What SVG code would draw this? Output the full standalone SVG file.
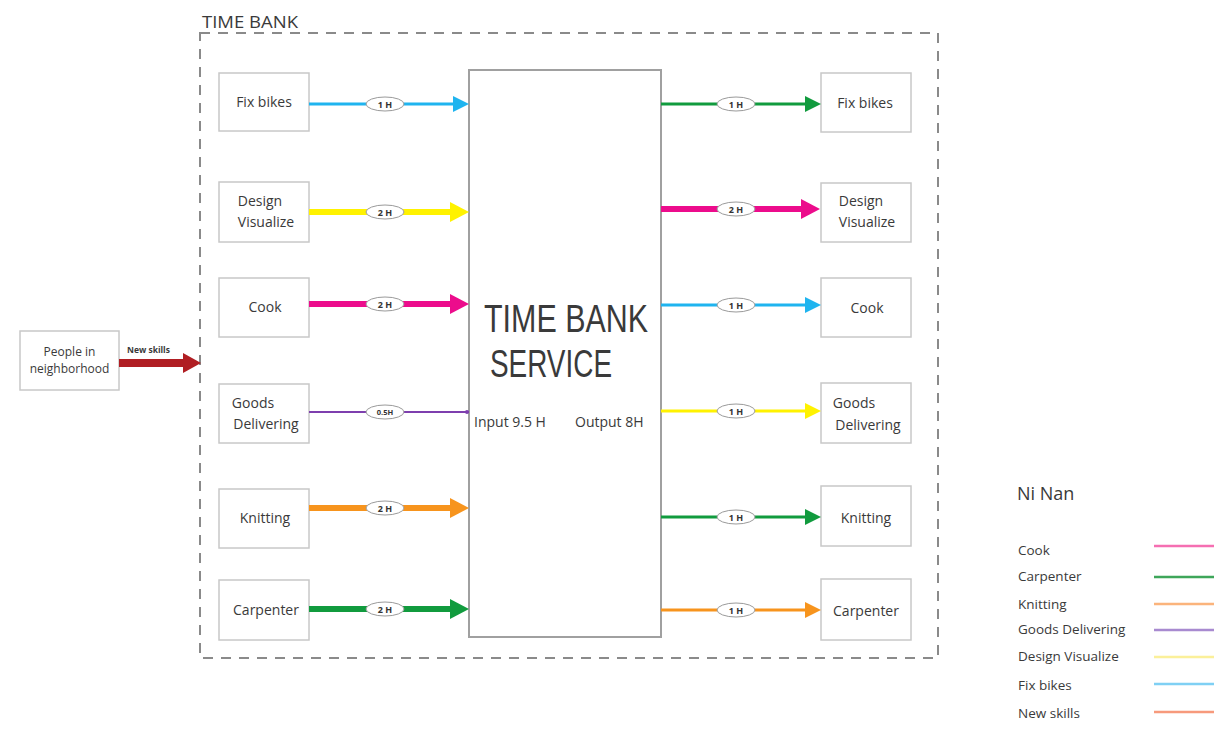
<svg xmlns="http://www.w3.org/2000/svg" width="1214" height="731" viewBox="0 0 1214 731">
  <style>
    text { font-family: "Open Sans", "Liberation Sans", sans-serif; fill: #3a3a3a; }
    .box { fill: #ffffff; stroke: #c8c8c8; stroke-width: 1.5; }
    .lbl { font-size: 14px; text-anchor: middle; }
    .pill { fill: #ffffff; stroke: #9a9a9a; stroke-width: 1; }
    .pt { font-size: 9px; font-weight: bold; text-anchor: middle; fill: #333; }
    .leg { font-size: 13.5px; }
    .legline { stroke-width: 2.5; }
    .title { font-family: "Liberation Sans", "Open Sans", sans-serif; font-size: 38px; }
  </style>

  <rect width="1214" height="731" fill="#ffffff"/>

  <!-- outer time bank boundary -->
  <text x="202" y="28" style="font-size:16px" fill="#444" textLength="96" lengthAdjust="spacingAndGlyphs">TIME BANK</text>
  <rect x="200" y="33" width="738" height="625" fill="none" stroke="#8a8a8a" stroke-width="2" stroke-dasharray="10 8"/>

  <!-- central service block -->
  <g id="service">
    <rect x="469" y="70" width="192" height="567" fill="#ffffff" stroke="#a0a0a0" stroke-width="2"/>
    <text class="title" x="484" y="332" textLength="164" lengthAdjust="spacingAndGlyphs">TIME BANK</text>
    <text class="title" x="490" y="377" textLength="122" lengthAdjust="spacingAndGlyphs">SERVICE</text>
    <text x="474" y="427" style="font-size:14px">Input 9.5 H</text>
    <text x="575" y="427" style="font-size:14px">Output 8H</text>
  </g>

  <!-- source of new skills -->
  <g id="people">
    <rect class="box" x="20" y="331" width="99" height="59"/>
    <text x="69.5" y="356" style="font-size:12px" text-anchor="middle">People in</text>
    <text x="69.5" y="373" style="font-size:12px" text-anchor="middle">neighborhood</text>
  </g>

  <!-- input skill boxes -->
  <g id="in-fixbikes"><rect class="box" x="219" y="73" width="90" height="58"/><text class="lbl" x="264" y="107">Fix bikes</text></g>
  <g id="in-design"><rect class="box" x="219" y="182" width="90" height="60"/><text class="lbl" x="260" y="206">Design</text><text class="lbl" x="266" y="227">Visualize</text></g>
  <g id="in-cook"><rect class="box" x="219" y="278" width="90" height="59"/><text class="lbl" x="265" y="312">Cook</text></g>
  <g id="in-goods"><rect class="box" x="219" y="384" width="90" height="59"/><text class="lbl" x="253" y="408">Goods</text><text class="lbl" x="266" y="429">Delivering</text></g>
  <g id="in-knitting"><rect class="box" x="219" y="489" width="90" height="59"/><text class="lbl" x="265" y="523">Knitting</text></g>
  <g id="in-carpenter"><rect class="box" x="219" y="580" width="90" height="60"/><text class="lbl" x="266" y="615">Carpenter</text></g>

  <!-- output skill boxes -->
  <g id="out-fixbikes"><rect class="box" x="821" y="73" width="90" height="59"/><text class="lbl" x="865" y="108">Fix bikes</text></g>
  <g id="out-design"><rect class="box" x="821" y="183" width="90" height="59"/><text class="lbl" x="861" y="206">Design</text><text class="lbl" x="867" y="227">Visualize</text></g>
  <g id="out-cook"><rect class="box" x="821" y="278" width="90" height="59"/><text class="lbl" x="867" y="313">Cook</text></g>
  <g id="out-goods"><rect class="box" x="821" y="383" width="90" height="60"/><text class="lbl" x="854" y="408">Goods</text><text class="lbl" x="868" y="430">Delivering</text></g>
  <g id="out-knitting"><rect class="box" x="821" y="486" width="90" height="60"/><text class="lbl" x="866" y="523">Knitting</text></g>
  <g id="out-carpenter"><rect class="box" x="821" y="579" width="90" height="61"/><text class="lbl" x="866" y="616">Carpenter</text></g>

  <!-- connectors -->
  <g id="connectors">
    <!-- new skills -->
    <line x1="119" y1="363" x2="185" y2="363" stroke="#b01e23" stroke-width="8"/>
    <path d="M183 353 L201 363 L183 373 Z" fill="#b01e23"/>
    <text x="127" y="353" style="font-size:8.5px;font-weight:bold" fill="#333">New skills</text>

    <!-- inputs -->
    <line x1="309" y1="104" x2="455" y2="104" stroke="#1fb4ef" stroke-width="3"/>
    <path d="M453 96 L469 104 L453 112 Z" fill="#1fb4ef"/>
    <line x1="309" y1="212" x2="452" y2="212" stroke="#fff200" stroke-width="6"/>
    <path d="M450 202 L469 212 L450 222 Z" fill="#fff200"/>
    <line x1="309" y1="304" x2="452" y2="304" stroke="#ec0c8c" stroke-width="6"/>
    <path d="M450 294 L469 304 L450 314 Z" fill="#ec0c8c"/>
    <line x1="309" y1="412" x2="469" y2="412" stroke="#7e3fae" stroke-width="2"/>
    <circle cx="467" cy="412" r="2" fill="#7e3fae"/>
    <line x1="309" y1="508" x2="452" y2="508" stroke="#f7941d" stroke-width="6"/>
    <path d="M450 498 L469 508 L450 518 Z" fill="#f7941d"/>
    <line x1="309" y1="609" x2="452" y2="609" stroke="#119b3e" stroke-width="6"/>
    <path d="M450 599 L469 609 L450 619 Z" fill="#119b3e"/>

    <!-- outputs -->
    <line x1="661" y1="104" x2="807" y2="104" stroke="#119b3e" stroke-width="3"/>
    <path d="M805 96 L821 104 L805 112 Z" fill="#119b3e"/>
    <line x1="661" y1="209" x2="803" y2="209" stroke="#ec0c8c" stroke-width="6"/>
    <path d="M801 199 L820 209 L801 219 Z" fill="#ec0c8c"/>
    <line x1="661" y1="305" x2="807" y2="305" stroke="#1fb4ef" stroke-width="3"/>
    <path d="M805 297 L821 305 L805 313 Z" fill="#1fb4ef"/>
    <line x1="661" y1="411" x2="807" y2="411" stroke="#fff200" stroke-width="3"/>
    <path d="M805 403 L821 411 L805 419 Z" fill="#fff200"/>
    <line x1="661" y1="517" x2="807" y2="517" stroke="#119b3e" stroke-width="3"/>
    <path d="M805 509 L821 517 L805 525 Z" fill="#119b3e"/>
    <line x1="661" y1="610" x2="807" y2="610" stroke="#f7941d" stroke-width="3"/>
    <path d="M805 602 L821 610 L805 618 Z" fill="#f7941d"/>

    <!-- hour tags -->
    <g>
      <ellipse class="pill" cx="385" cy="104" rx="19" ry="7"/><text class="pt" x="385" y="107.5">1 H</text>
      <ellipse class="pill" cx="385" cy="212" rx="19" ry="7"/><text class="pt" x="385" y="215.5">2 H</text>
      <ellipse class="pill" cx="385" cy="304" rx="19" ry="7"/><text class="pt" x="385" y="307.5">2 H</text>
      <ellipse class="pill" cx="385" cy="412" rx="19" ry="7"/><text class="pt" x="385" y="415" style="font-size:7.5px">0.5H</text>
      <ellipse class="pill" cx="385" cy="508" rx="19" ry="7"/><text class="pt" x="385" y="511.5">2 H</text>
      <ellipse class="pill" cx="385" cy="609" rx="19" ry="7"/><text class="pt" x="385" y="612.5">2 H</text>
      <ellipse class="pill" cx="736" cy="104" rx="19" ry="7"/><text class="pt" x="736" y="107.5">1 H</text>
      <ellipse class="pill" cx="736" cy="209" rx="19" ry="7"/><text class="pt" x="736" y="212.5">2 H</text>
      <ellipse class="pill" cx="736" cy="305" rx="19" ry="7"/><text class="pt" x="736" y="308.5">1 H</text>
      <ellipse class="pill" cx="736" cy="411" rx="19" ry="7"/><text class="pt" x="736" y="414.5">1 H</text>
      <ellipse class="pill" cx="736" cy="517" rx="19" ry="7"/><text class="pt" x="736" y="520.5">1 H</text>
      <ellipse class="pill" cx="736" cy="610" rx="19" ry="7"/><text class="pt" x="736" y="613.5">1 H</text>
    </g>
  </g>

  <!-- legend -->
  <g id="legend">
    <text x="1017" y="500" style="font-size:18px" fill="#555">Ni Nan</text>
    <text class="leg" x="1018" y="555">Cook</text>
    <text class="leg" x="1018" y="581">Carpenter</text>
    <text class="leg" x="1018" y="609">Knitting</text>
    <text class="leg" x="1018" y="634">Goods Delivering</text>
    <text class="leg" x="1018" y="661">Design Visualize</text>
    <text class="leg" x="1018" y="690">Fix bikes</text>
    <text class="leg" x="1018" y="718">New skills</text>
    <line class="legline" x1="1154" y1="546" x2="1214" y2="546" stroke="#f56fb2"/>
    <line class="legline" x1="1154" y1="577" x2="1214" y2="577" stroke="#3ea65a"/>
    <line class="legline" x1="1154" y1="604" x2="1214" y2="604" stroke="#fbb47c"/>
    <line class="legline" x1="1154" y1="630" x2="1214" y2="630" stroke="#a88ad0"/>
    <line class="legline" x1="1154" y1="657" x2="1214" y2="657" stroke="#fbf09a"/>
    <line class="legline" x1="1154" y1="684" x2="1214" y2="684" stroke="#7fd0f4"/>
    <line class="legline" x1="1154" y1="712" x2="1214" y2="712" stroke="#f79a7c"/>
  </g>
</svg>
